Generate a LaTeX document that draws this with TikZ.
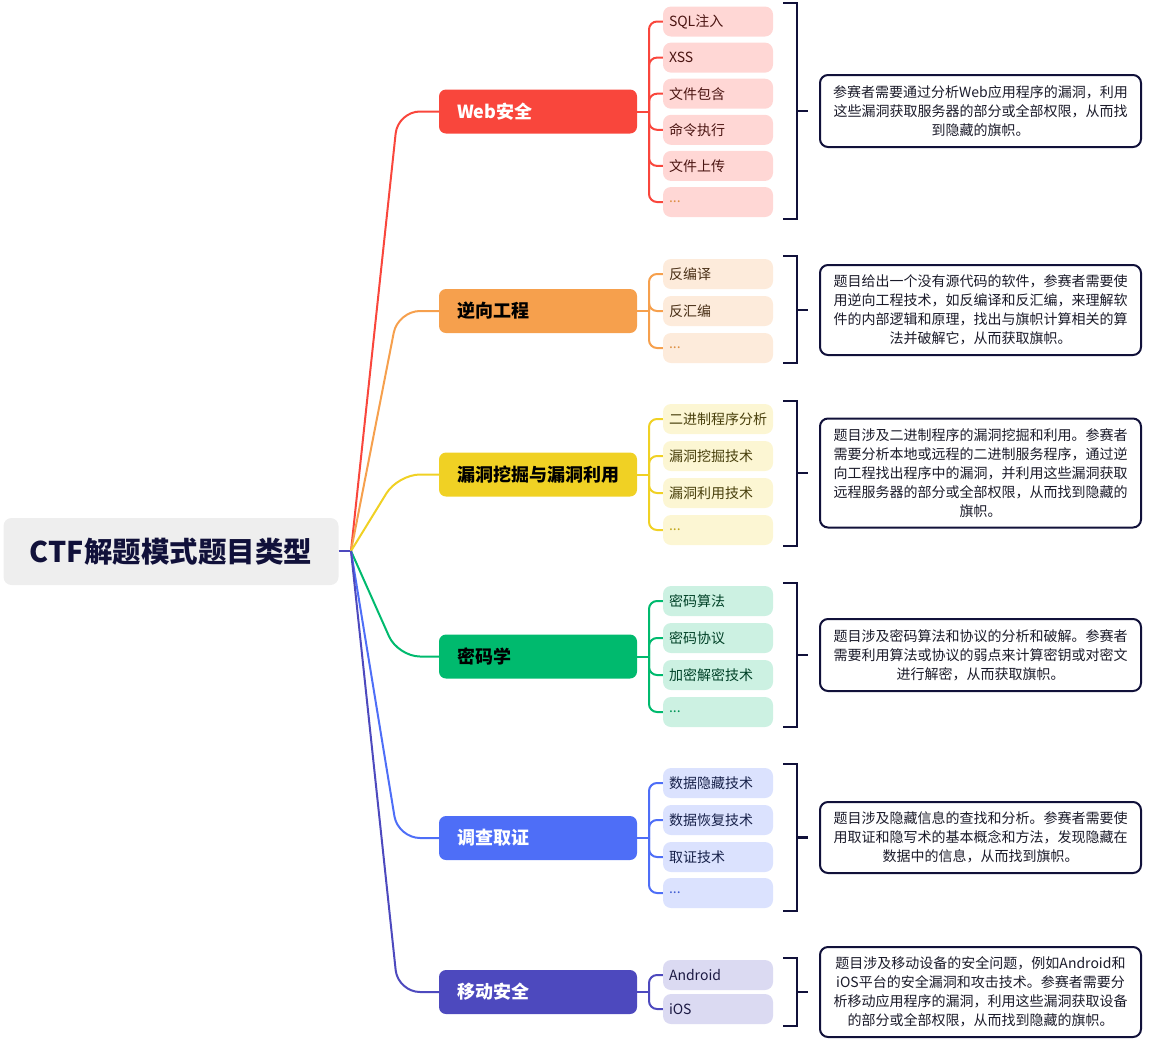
\documentclass[tikz,border=0pt]{standalone}
\usepackage{fontspec}
\setmainfont{Noto Sans CJK SC}
\definecolor{cRed}{HTML}{F9463C}
\definecolor{sRed}{HTML}{FFD7D5}
\definecolor{cOrange}{HTML}{F6A04D}
\definecolor{sOrange}{HTML}{FDEBDB}
\definecolor{cYellow}{HTML}{F0D124}
\definecolor{sYellow}{HTML}{FCF6D3}
\definecolor{cGreen}{HTML}{00BA6E}
\definecolor{sGreen}{HTML}{CCF1E2}
\definecolor{cBlue}{HTML}{4E6EF7}
\definecolor{sBlue}{HTML}{DBE2FE}
\definecolor{cPurple}{HTML}{4D49BE}
\definecolor{sPurple}{HTML}{DBDAF2}
\definecolor{navy}{HTML}{11113A}
\definecolor{rootgray}{HTML}{EEEEEE}
\definecolor{desctext}{HTML}{1B1B2A}
\tikzset{
 rootbox/.style={rectangle, rounded corners=8pt, fill=rootgray, minimum width=335pt, minimum height=67pt, font=\fontsize{28.5}{33}\selectfont\bfseries, text=navy},
 branchbox/.style={rectangle, rounded corners=7pt, minimum width=198pt, minimum height=44pt, text width=162pt, inner xsep=18pt, align=left, font=\fontsize{18}{22}\selectfont\bfseries},
 subbox/.style={rectangle, rounded corners=8pt, minimum width=110pt, minimum height=30pt, text width=98pt, inner xsep=6pt, align=left, font=\fontsize{14}{17}\selectfont},
 descbox/.style={rectangle, rounded corners=8pt, draw=navy, line width=2pt, fill=white, minimum width=321pt, align=center, font=\fontsize{14}{19}\selectfont, text=desctext},
 link/.style={line width=2pt, rounded corners=22pt},
 spine/.style={line width=2pt, rounded corners=8pt},
 bracket/.style={draw=navy, line width=2.5pt},
 tick/.style={draw=navy, line width=2.5pt, shorten >=11pt},
}
\begin{document}
\begin{tikzpicture}[x=1pt,y=-1pt]
\useasboundingbox (0,0) rectangle (1149,1045);

% root
\node[rootbox] (root) at (171,551.5) {CTF解题模式题目类型};
\coordinate (hub) at (351,551);
\draw[line width=2pt, draw=cPurple] (root.east |- hub) -- (hub);

% ---------- branch nodes ----------
\node[branchbox, fill=cRed, text=white] (b1) at (538,111.5) {Web安全};
\node[branchbox, fill=cOrange, text=black] (b2) at (538,311) {逆向工程};
\node[branchbox, fill=cYellow, text=black] (b3) at (538,474.5) {漏洞挖掘与漏洞利用};
\node[branchbox, fill=cGreen, text=black] (b4) at (538,656.5) {密码学};
\node[branchbox, fill=cBlue, text=white] (b5) at (538,838) {调查取证};
\node[branchbox, fill=cPurple, text=white] (b6) at (538,992) {移动安全};

% links from hub
\draw[link, draw=cRed] (hub) -- (398,111.5) -- (b1.west);
\draw[link, draw=cOrange] (hub) -- (398,311) -- (b2.west);
\draw[link, draw=cYellow] (hub) -- (398,474.5) -- (b3.west);
\draw[link, draw=cGreen] (hub) -- (398,656.5) -- (b4.west);
\draw[link, draw=cBlue] (hub) -- (398,838) -- (b5.west);
\draw[link, draw=cPurple] (hub) -- (398,992) -- (b6.west);

% ---------- sub nodes ----------
% Web
\coordinate (j1) at (649,111.5);
\draw[spine, draw=cRed] (b1.east) -- (j1);
\foreach \t/\y [count=\i] in {SQL注入/21.5, XSS/57.6, 文件包含/93.7, 命令执行/129.8, 文件上传/165.9}{
  \node[subbox, fill=sRed, text=cRed!30!black] (s1\i) at (718,\y) {\t};
  \draw[spine, draw=cRed] (j1) |- (s1\i.west);
}
\node[subbox, fill=sRed, text=cOrange!90!black] (s16) at (718,202) {...};
\draw[spine, draw=cRed] (j1) |- (s16.west);

% Reverse
\coordinate (j2) at (649,311);
\draw[spine, draw=cOrange] (b2.east) -- (j2);
\foreach \t/\y [count=\i] in {反编译/274, 反汇编/311}{
  \node[subbox, fill=sOrange, text=cOrange!30!black] (s2\i) at (718,\y) {\t};
  \draw[spine, draw=cOrange] (j2) |- (s2\i.west);
}
\node[subbox, fill=sOrange, text=cOrange!90!black] (s23) at (718,348) {...};
\draw[spine, draw=cOrange] (j2) |- (s23.west);

% Vuln
\coordinate (j3) at (649,474.5);
\draw[spine, draw=cYellow] (b3.east) -- (j3);
\foreach \t/\y [count=\i] in {二进制程序分析/419, 漏洞挖掘技术/456, 漏洞利用技术/493}{
  \node[subbox, fill=sYellow, text=cYellow!30!black] (s3\i) at (718,\y) {\t};
  \draw[spine, draw=cYellow] (j3) |- (s3\i.west);
}
\node[subbox, fill=sYellow, text=cYellow!80!black] (s34) at (718,530) {...};
\draw[spine, draw=cYellow] (j3) |- (s34.west);

% Crypto
\coordinate (j4) at (649,656.5);
\draw[spine, draw=cGreen] (b4.east) -- (j4);
\foreach \t/\y [count=\i] in {密码算法/601, 密码协议/638, 加密解密技术/675}{
  \node[subbox, fill=sGreen, text=cGreen!35!black] (s4\i) at (718,\y) {\t};
  \draw[spine, draw=cGreen] (j4) |- (s4\i.west);
}
\node[subbox, fill=sGreen, text=cGreen!80!black] (s44) at (718,712) {...};
\draw[spine, draw=cGreen] (j4) |- (s44.west);

% Forensics
\coordinate (j5) at (649,838);
\draw[spine, draw=cBlue] (b5.east) -- (j5);
\foreach \t/\y [count=\i] in {数据隐藏技术/783, 数据恢复技术/820, 取证技术/857}{
  \node[subbox, fill=sBlue, text=cBlue!30!black] (s5\i) at (718,\y) {\t};
  \draw[spine, draw=cBlue] (j5) |- (s5\i.west);
}
\node[subbox, fill=sBlue, text=cBlue!85!black] (s54) at (718,893) {...};
\draw[spine, draw=cBlue] (j5) |- (s54.west);

% Mobile
\coordinate (j6) at (649,992);
\draw[spine, draw=cPurple] (b6.east) -- (j6);
\foreach \t/\y [count=\i] in {Android/975, iOS/1009}{
  \node[subbox, fill=sPurple, text=cPurple!35!black] (s6\i) at (718,\y) {\t};
  \draw[spine, draw=cPurple] (j6) |- (s6\i.west);
}

% ---------- description boxes ----------
\node[descbox, minimum height=72pt] (d1) at (980.5,111) {参赛者需要通过分析Web应用程序的漏洞，利用\\这些漏洞获取服务器的部分或全部权限，从而找\\到隐藏的旗帜。};
\node[descbox, minimum height=90pt] (d2) at (980.5,310) {题目给出一个没有源代码的软件，参赛者需要使\\用逆向工程技术，如反编译和反汇编，来理解软\\件的内部逻辑和原理，找出与旗帜计算相关的算\\法并破解它，从而获取旗帜。};
\node[descbox, minimum height=109pt] (d3) at (980.5,473) {题目涉及二进制程序的漏洞挖掘和利用。参赛者\\需要分析本地或远程的二进制服务程序，通过逆\\向工程找出程序中的漏洞，并利用这些漏洞获取\\远程服务器的部分或全部权限，从而找到隐藏的\\旗帜。};
\node[descbox, minimum height=72pt] (d4) at (980.5,655) {题目涉及密码算法和协议的分析和破解。参赛者\\需要利用算法或协议的弱点来计算密钥或对密文\\进行解密，从而获取旗帜。};
\node[descbox, minimum height=71pt] (d5) at (980.5,837.5) {题目涉及隐藏信息的查找和分析。参赛者需要使\\用取证和隐写术的基本概念和方法，发现隐藏在\\数据中的信息，从而找到旗帜。};
\node[descbox, minimum height=90pt] (d6) at (980.5,992) {题目涉及移动设备的安全问题，例如Android和\\iOS平台的安全漏洞和攻击技术。参赛者需要分\\析移动应用程序的漏洞，利用这些漏洞获取设备\\的部分或全部权限，从而找到隐藏的旗帜。};

% ---------- brackets ----------
\draw[bracket] (783,3) -- (797,3) -- (797,219) -- (783,219);
\coordinate (k1) at (797,111);
\draw[tick] (k1) -- (d1.west);
\draw[bracket] (783,256) -- (797,256) -- (797,363) -- (783,363);
\coordinate (k2) at (797,310);
\draw[tick] (k2) -- (d2.west);
\draw[bracket] (783,401) -- (797,401) -- (797,546) -- (783,546);
\coordinate (k3) at (797,473);
\draw[tick] (k3) -- (d3.west);
\draw[bracket] (783,583) -- (797,583) -- (797,727) -- (783,727);
\coordinate (k4) at (797,655);
\draw[tick] (k4) -- (d4.west);
\draw[bracket] (783,764) -- (797,764) -- (797,911) -- (783,911);
\coordinate (k5) at (797,837.5);
\draw[tick] (k5) -- (d5.west);
\draw[bracket] (783,958) -- (797,958) -- (797,1026) -- (783,1026);
\coordinate (k6) at (797,992);
\draw[tick] (k6) -- (d6.west);
\end{tikzpicture}
\end{document}
